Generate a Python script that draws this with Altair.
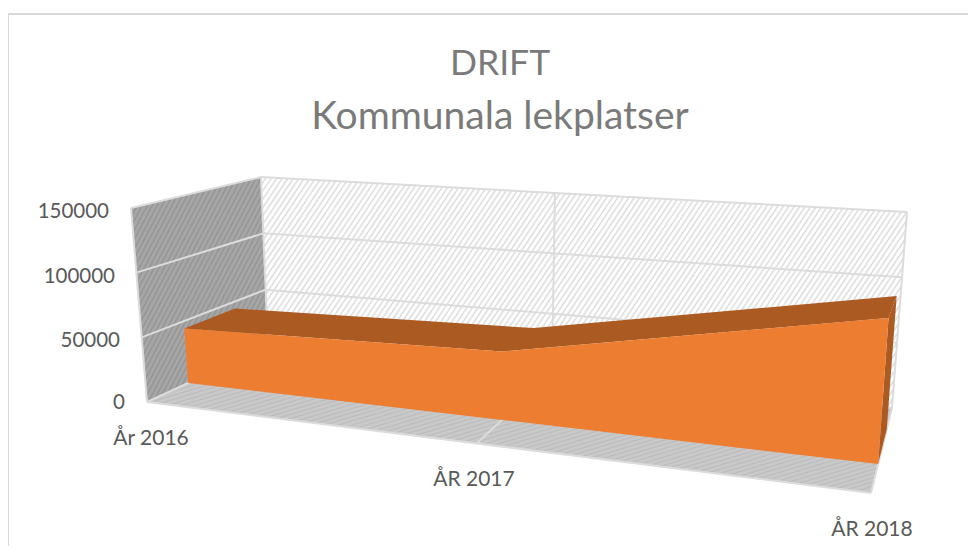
import altair as alt
import numpy as np
import pandas as pd

# ---- data
categories = ["År 2016", "ÅR 2017", "ÅR 2018"]
values = [44000, 50000, 96000]
tick_values = [0, 50000, 100000, 150000]
title_lines = ["DRIFT", "Kommunala lekplatser"]

# ---- the 3D box as drawn: (across, height, depth) -> page position
V_MAX = 150000
CAT_POS = [0.0, 0.455, 1.0]   # perspective foreshortening of the category axis
D_FRONT, D_BACK = 0.34, 0.75  # depth of the area ribbon inside the box
BOX = {
    (0, 0, 0): (147, 402), (0, 1, 0): (131, 208),
    (0, 0, 1): (268, 346), (0, 1, 1): (261, 177),
    (1, 0, 0): (871, 493), (1, 1, 0): (888, 248),
    (1, 0, 1): (892, 408), (1, 1, 1): (907, 212),
}


def P(u, t, d):
    out = np.zeros(2)
    for (a, b, c), xy in BOX.items():
        w = (u if a else 1 - u) * (t if b else 1 - t) * (d if c else 1 - d)
        out += w * np.array(xy, float)
    return tuple(out)


def area_rows(poly):
    """x-monotone polygon -> rows of x, y (upper edge), y2 (lower edge)."""
    n = len(poly)
    xs = [p[0] for p in poly]
    a, b = int(np.argmin(xs)), int(np.argmax(xs))
    c1 = [poly[(a + i) % n] for i in range((b - a) % n + 1)]
    c2 = [poly[(a - i) % n] for i in range((a - b) % n + 1)]
    grid = sorted(set(xs))
    y1 = np.interp(grid, [p[0] for p in c1], [p[1] for p in c1])
    y2 = np.interp(grid, [p[0] for p in c2], [p[1] for p in c2])
    return pd.DataFrame({"x": grid, "y": np.minimum(y1, y2), "y2": np.maximum(y1, y2)})


def clip(p, q, poly):
    """Clip segment p-q to a convex polygon."""
    p, q = np.array(p, float), np.array(q, float)
    t0, t1 = 0.0, 1.0
    poly = [np.array(v, float) for v in poly]
    cx = sum(poly) / len(poly)
    for i in range(len(poly)):
        a, b = poly[i], poly[(i + 1) % len(poly)]
        nrm = np.array([-(b - a)[1], (b - a)[0]])
        if nrm @ (cx - a) < 0:
            nrm = -nrm
        den = nrm @ (q - p)
        num = nrm @ (p - a)
        if abs(den) < 1e-9:
            if num < 0:
                return None
            continue
        t = -num / den
        if den > 0:
            t0 = max(t0, t)
        else:
            t1 = min(t1, t)
    if t0 >= t1:
        return None
    return tuple(p + t0 * (q - p)), tuple(p + t1 * (q - p))


def hatch(poly, dx, dy, step):
    """Parallel stripes of direction (dx, dy) clipped to a convex polygon."""
    rows = []
    d = np.array([dx, dy], float)
    d /= np.linalg.norm(d)
    n = np.array([-d[1], d[0]])
    pts = np.array(poly, float)
    proj = pts @ n
    for s in np.arange(proj.min(), proj.max(), step):
        base = n * s
        seg = clip(base - d * 1500, base + d * 1500, poly)
        if seg:
            rows.append({"x": seg[0][0], "y": seg[0][1], "x2": seg[1][0], "y2": seg[1][1]})
    return pd.DataFrame(rows)


def seg_rows(segs):
    return pd.DataFrame([{"x": a[0], "y": a[1], "x2": b[0], "y2": b[1]} for a, b in segs])


X = alt.X("x:Q", axis=None, scale=alt.Scale(domain=[8, 968], nice=False, zero=False))
Y = alt.Y("y:Q", axis=None, scale=alt.Scale(domain=[546, 8], nice=False, zero=False))


def fill(poly, color):
    return alt.Chart(area_rows(poly)).mark_area(color=color, opacity=1, interpolate="linear").encode(
        x=X, y=Y, y2="y2:Q")


def rules(df, color, width):
    return alt.Chart(df).mark_rule(color=color, strokeWidth=width).encode(x=X, y=Y, x2="x2:Q", y2="y2:Q")


def corners(*keys):
    return [BOX[k] for k in keys]


back = corners((0, 1, 1), (1, 1, 1), (1, 0, 1), (0, 0, 1))
left = corners((0, 1, 0), (0, 1, 1), (0, 0, 1), (0, 0, 0))
floor = corners((0, 0, 0), (0, 0, 1), (1, 0, 1), (1, 0, 0))

layers = []

# chart frame (top and left edges)
layers.append(rules(seg_rows([((8, 14), (968, 14)), ((8, 14), (8, 546))]), "#d9d9d9", 2))

# walls and floor with their stripes
layers += [
    rules(hatch(back, 1, -1.5, 4.6), "#dfdfdf", 1.6),
    fill(left, "#a6a6a6"),
    rules(hatch(left, 1, -1.9, 4.4), "#969696", 1.5),
    fill(floor, "#c9c9c9"),
    rules(hatch(floor, 1, -0.3, 4.0), "#bdbdbd", 1.2),
]

# gridlines and box edges
grid = []
for v in tick_values:
    t = v / V_MAX
    grid.append((P(0, t, 0), P(0, t, 1)))
    grid.append((P(0, t, 1), P(1, t, 1)))
grid += [
    (P(0, 0, 0), P(0, 1, 0)), (P(0, 0, 1), P(0, 1, 1)), (P(1, 0, 1), P(1, 1, 1)),
    (P(0, 0, 0), P(1, 0, 0)), (P(1, 0, 0), P(1, 0, 1)),
    (P(CAT_POS[1], 0, 0), P(CAT_POS[1], 0, 1)),
    ((P(CAT_POS[1], 0, 1)), (P(CAT_POS[1], 1, 1))),
]
layers.append(rules(seg_rows(grid), "#dcdcdc", 2))

# the 3D area ribbon
f_top = [P(u, v / V_MAX, D_FRONT) for u, v in zip(CAT_POS, values)]
b_top = [P(u, v / V_MAX, D_BACK) for u, v in zip(CAT_POS, values)]
f_bot = [P(u, 0, D_FRONT) for u in CAT_POS]
b_bot = [P(u, 0, D_BACK) for u in CAT_POS]
layers += [
    fill(f_top + b_top[::-1], "#ab5a22"),
    fill([f_top[-1], b_top[-1], b_bot[-1], f_bot[-1]], "#ab5a22"),
    fill(f_top + f_bot[::-1], "#ed7d31"),
]

# texts
tick_df = pd.DataFrame({
    "label": [str(v) for v in tick_values],
    "x": [125, 120, 115, 109],
    "y": [403, 341, 277, 212],
})
cat_df = pd.DataFrame({"label": categories, "x": [151, 474, 872], "y": [439, 480, 530]})

layers.append(alt.Chart(tick_df).mark_text(align="right", baseline="middle", font="Lato", fontSize=20.5,
                                           color="#595959").encode(x=X, y=Y, text="label:N"))
layers.append(alt.Chart(cat_df).mark_text(align="center", baseline="middle", font="Lato", fontSize=21,
                                          color="#595959").encode(x=X, y=Y, text="label:N"))
layers.append(alt.Chart(pd.DataFrame({"label": title_lines[:1], "x": [500], "y": [64]})).mark_text(
    align="center", baseline="middle", font="Lato", fontSize=35.5, color="#7a7a7a").encode(x=X, y=Y, text="label:N"))
layers.append(alt.Chart(pd.DataFrame({"label": title_lines[1:], "x": [500], "y": [117]})).mark_text(
    align="center", baseline="middle", font="Lato", fontSize=39, color="#7a7a7a").encode(x=X, y=Y, text="label:N"))

chart = alt.layer(*layers).properties(
    width=960, height=538, padding=0, autosize=alt.AutoSizeParams(type="none")
).configure_view(stroke=None)

chart.save("out.html", embed_options={"renderer": "svg", "actions": False})
